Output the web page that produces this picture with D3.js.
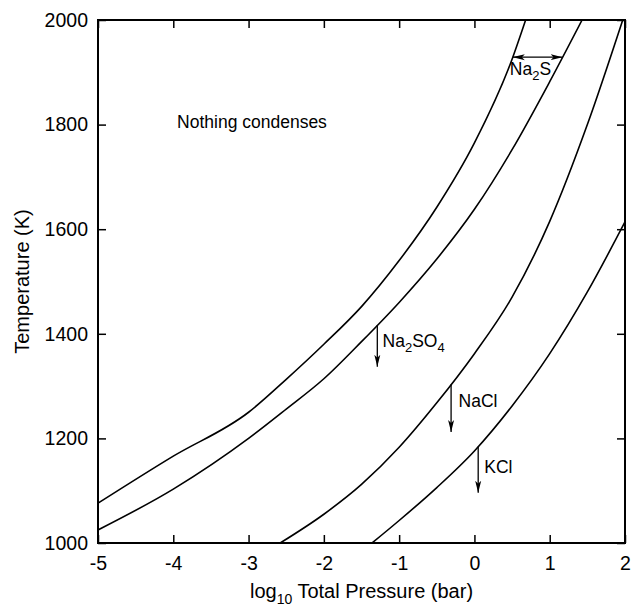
<!DOCTYPE html>
<html>
<head>
<meta charset="utf-8">
<script src="https://cdn.jsdelivr.net/npm/d3@7"></script>
<style>
  body { margin: 0; background: #fff; }
  svg { display: block; font-family: "Liberation Sans", Arial, Helvetica, sans-serif; }
</style>
</head>
<body>
<div id="chart"></div>
<script>
'use strict';

// condensation curves: log10 P (bar) vs T (K)
var curve1P = [-5, -4, -3, -2.5, -2, -1.5, -1, -0.5, 0, 0.5, 0.68];
var curve1T = [1076, 1166, 1250, 1313, 1380, 1452, 1540, 1642, 1765, 1925, 2000];

var curve2P = [-5, -4, -3, -2.5, -2, -1.5, -1, -0.5, 0, 0.5, 1, 1.43];
var curve2T = [1025, 1103, 1200, 1256, 1314, 1385, 1460, 1543, 1638, 1752, 1882, 2000];

var curve3P = [-2.58, -2, -1.5, -1, -0.5, 0, 0.5, 1, 1.5, 1.97];
var curve3T = [1000, 1055, 1112, 1183, 1268, 1362, 1470, 1615, 1800, 2000];

var curve4P = [-1.36, -1, -0.5, 0, 0.5, 1, 1.5, 2];
var curve4T = [1000, 1043, 1106, 1176, 1262, 1362, 1480, 1614];

var xTicks = [-5, -4, -3, -2, -1, 0, 1, 2];
var yTicks = [1000, 1200, 1400, 1600, 1800, 2000];

// vertical arrows: name, x, T from, T to, label position
var arrowNames = ['Na2SO4', 'NaCl', 'KCl'];
var arrowX = [-1.29, -0.31, 0.05];
var arrowFrom = [1417, 1303, 1184];
var arrowTo = [1337, 1212, 1096];
var labelX = [-1.22, -0.21, 0.13];
var labelT = [1375, 1260, 1134];

// Na2S horizontal double arrow
var na2sFrom = 0.51, na2sTo = 1.17, na2sT = 1929;

var width = 632, height = 608;
var margin = { left: 98, top: 20, right: 7, bottom: 65 };

var svg = d3.select('#chart').append('svg')
    .attr('width', width)
    .attr('height', height);

var xScale = d3.scaleLinear().domain([-5, 2]).range([margin.left, width - margin.right]);
var yScale = d3.scaleLinear().domain([1000, 2000]).range([height - margin.bottom, margin.top]);

var defs = svg.append('defs');
defs.append('marker')
    .attr('id', 'head')
    .attr('viewBox', '0 0 12 8')
    .attr('refX', 12).attr('refY', 4)
    .attr('markerWidth', 12).attr('markerHeight', 8)
    .attr('markerUnits', 'userSpaceOnUse')
    .attr('orient', 'auto-start-reverse')
    .append('path')
    .attr('d', 'M0,1 L12,4 L0,7 L3,4 Z')
    .attr('fill', '#000');

var plotClip = defs.append('clipPath').attr('id', 'plot');
plotClip.append('rect')
    .attr('x', xScale(-5)).attr('y', yScale(2000))
    .attr('width', xScale(2) - xScale(-5))
    .attr('height', yScale(1000) - yScale(2000));

// axes, ticks pointing inward
function styleAxis(g) {
    g.select('.domain').remove();
    g.selectAll('.tick line').attr('stroke', '#000').attr('stroke-width', 1.5);
    g.selectAll('.tick text')
        .attr('fill', '#000')
        .style('font-size', '19.5px');
}

svg.append('g')
    .attr('transform', 'translate(0,' + yScale(1000) + ')')
    .call(d3.axisBottom(xScale).tickValues(xTicks).tickSizeInner(-8).tickSizeOuter(0).tickPadding(13)
        .tickFormat(function (d) { return d < 0 ? '-' + Math.abs(d) : d; }))
    .call(styleAxis);

svg.append('g')
    .attr('transform', 'translate(0,' + yScale(2000) + ')')
    .call(d3.axisTop(xScale).tickValues(xTicks).tickSizeInner(-8).tickSizeOuter(0).tickFormat(''))
    .call(styleAxis);

svg.append('g')
    .attr('transform', 'translate(' + xScale(-5) + ',0)')
    .call(d3.axisLeft(yScale).tickValues(yTicks).tickSizeInner(-8).tickSizeOuter(0).tickPadding(10)
        .tickFormat(d3.format('d')))
    .call(styleAxis);

svg.append('g')
    .attr('transform', 'translate(' + xScale(2) + ',0)')
    .call(d3.axisRight(yScale).tickValues(yTicks).tickSizeInner(-8).tickSizeOuter(0).tickFormat(''))
    .call(styleAxis);

// frame
svg.append('rect')
    .attr('x', xScale(-5)).attr('y', yScale(2000))
    .attr('width', xScale(2) - xScale(-5))
    .attr('height', yScale(1000) - yScale(2000))
    .attr('fill', 'none')
    .attr('stroke', '#000')
    .attr('stroke-width', 2);

// curves
var line = d3.line()
    .curve(d3.curveMonotoneX)
    .x(function (d) { return xScale(d[0]); })
    .y(function (d) { return yScale(d[1]); });

var curves = [[curve1P, curve1T], [curve2P, curve2T], [curve3P, curve3T], [curve4P, curve4T]];
svg.append('g').attr('clip-path', 'url(#plot)')
    .selectAll('path.curve')
    .data(curves.map(function (c) { return d3.zip(c[0], c[1]); }))
    .enter().append('path')
    .attr('class', 'curve')
    .attr('d', line)
    .attr('fill', 'none')
    .attr('stroke', '#000')
    .attr('stroke-width', 1.6)
    .attr('stroke-linejoin', 'round');

// labels with subscripts
function chemLabel(sel, formula) {
    // digits in the formula become subscripts
    formula.match(/[A-Za-z]+|\d+/g).forEach(function (part) {
        if (/\d/.test(part)) {
            sel.append('tspan').attr('font-size', '13px').attr('dy', 5).text(part);
        } else {
            var prev = sel.selectAll('tspan').size();
            var t = sel.append('tspan').text(part);
            if (prev > 0) t.attr('dy', -5);
        }
    });
}

var annot = svg.append('g').style('font-size', '17.5px').attr('fill', '#000');

arrowNames.forEach(function (name, i) {
    annot.append('line')
        .attr('x1', xScale(arrowX[i])).attr('x2', xScale(arrowX[i]))
        .attr('y1', yScale(arrowFrom[i])).attr('y2', yScale(arrowTo[i]))
        .attr('stroke', '#000')
        .attr('stroke-width', 1.3)
        .attr('marker-end', 'url(#head)');
    var t = annot.append('text')
        .attr('x', xScale(labelX[i]))
        .attr('y', yScale(labelT[i]));
    chemLabel(t, name);
});

annot.append('line')
    .attr('x1', xScale(na2sFrom)).attr('x2', xScale(na2sTo))
    .attr('y1', yScale(na2sT)).attr('y2', yScale(na2sT))
    .attr('stroke', '#000')
    .attr('stroke-width', 1.3)
    .attr('marker-start', 'url(#head)')
    .attr('marker-end', 'url(#head)');

var na2sLabel = annot.append('text')
    .attr('x', xScale(0.47))
    .attr('y', yScale(1895));
chemLabel(na2sLabel, 'Na2S');

annot.append('text')
    .attr('x', xScale(-3.95))
    .attr('y', yScale(1793))
    .text('Nothing condenses');

// axis titles
var xTitle = svg.append('text')
    .attr('x', (xScale(-5) + xScale(2)) / 2)
    .attr('y', 598)
    .attr('text-anchor', 'middle')
    .style('font-size', '20px');
xTitle.append('tspan').text('log');
xTitle.append('tspan').attr('font-size', '14px').attr('dy', 6).text('10');
xTitle.append('tspan').attr('dy', -6).text(' Total Pressure (bar)');

svg.append('text')
    .attr('transform', 'translate(29,' + (yScale(1500)) + ') rotate(-90)')
    .attr('text-anchor', 'middle')
    .style('font-size', '20px')
    .text('Temperature (K)');
</script>
</body>
</html>
